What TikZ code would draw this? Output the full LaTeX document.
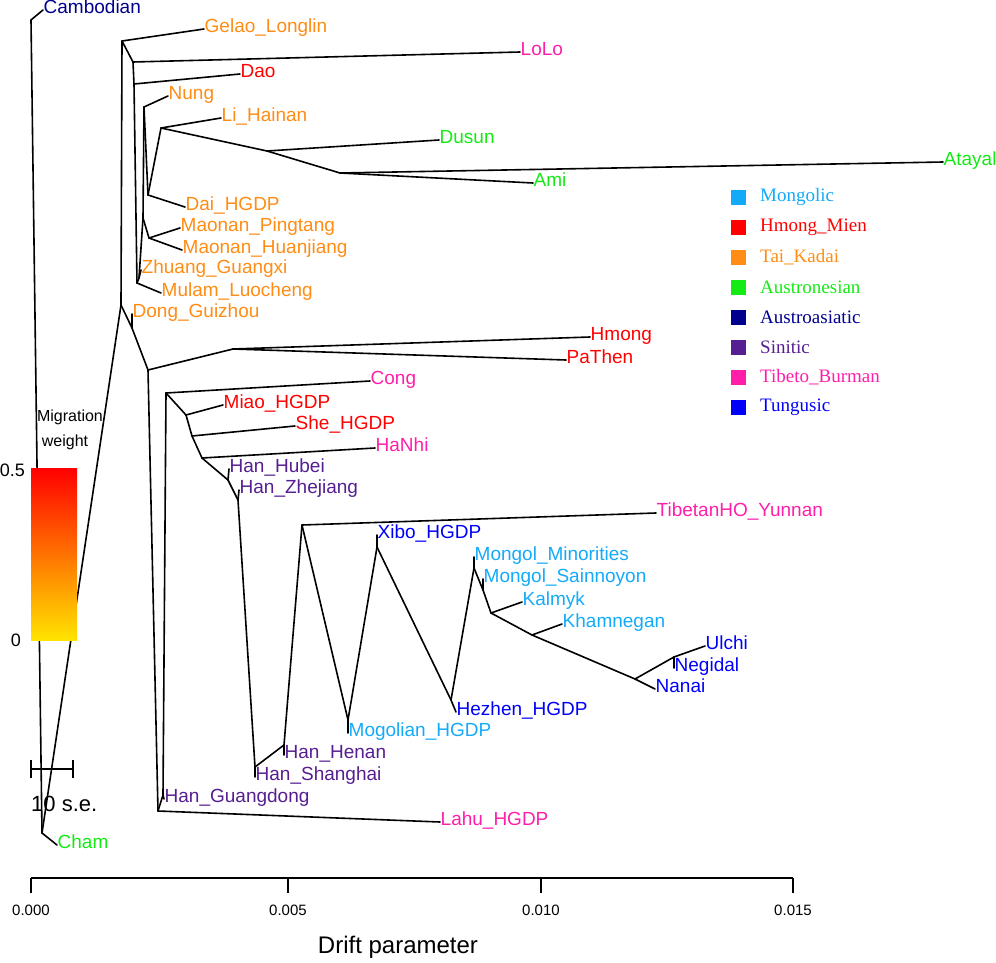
\documentclass[tikz,border=0pt]{standalone}
\usepackage{fontspec}
\setmainfont{Liberation Sans}
\newfontfamily\legfont{Liberation Serif}
\definecolor{cMon}{RGB}{20,170,250}
\definecolor{cHM}{RGB}{255,0,0}
\definecolor{cTK}{RGB}{255,140,20}
\definecolor{cAN}{RGB}{20,235,20}
\definecolor{cAA}{RGB}{0,0,140}
\definecolor{cSin}{RGB}{85,30,145}
\definecolor{cTB}{RGB}{255,30,170}
\definecolor{cTun}{RGB}{0,0,250}
\definecolor{barYel}{RGB}{255,228,0}
\begin{document}
\begin{tikzpicture}[x=1pt,y=-1pt,
  edge/.style={line width=1.6pt, black, line join=round, line cap=round},
  tip/.style={anchor=west, inner xsep=0.5pt, inner ysep=0pt, font=\fontsize{19}{22}\selectfont, text height=0.70em, text depth=0.02em},
  tMon/.style={tip, text=cMon}, tHM/.style={tip, text=cHM}, tTK/.style={tip, text=cTK},
  tAN/.style={tip, text=cAN}, tAA/.style={tip, text=cAA}, tSin/.style={tip, text=cSin},
  tTB/.style={tip, text=cTB}, tTun/.style={tip, text=cTun},
  legtxt/.style={anchor=west, inner sep=0pt, font=\legfont\fontsize{19}{22}\selectfont},
  axtxt/.style={inner sep=0pt, font=\fontsize{15}{18}\selectfont}]
\useasboundingbox (0,0) rectangle (996,963);

% internal nodes
\coordinate (root) at (31,20);
\coordinate (n1) at (42,833);
\coordinate (n2) at (121,305);
\coordinate (n3) at (122,41);
\coordinate (n4) at (133,62);
\coordinate (n5) at (134,84);
\coordinate (n6) at (137,283);
\coordinate (n8) at (139,278);
\coordinate (n7) at (143,218);
\coordinate (nMao) at (149,238);
\coordinate (nNung) at (144,107);
\coordinate (nDai) at (148,195);
\coordinate (nLi) at (161,128);
\coordinate (nA) at (267,151);
\coordinate (nB) at (340,173);
\coordinate (nD) at (132,328);
\coordinate (n9) at (148,370);
\coordinate (nHm) at (233,349);
\coordinate (n10) at (158,811);
\coordinate (n11) at (163,795);
\coordinate (nCong) at (166,393);
\coordinate (nMiao) at (186,415);
\coordinate (nShe) at (192,436);
\coordinate (nHaNhi) at (202,458);
\coordinate (nHubei) at (228,480);
\coordinate (nZhe) at (238,500);
\coordinate (nSha) at (255,767);
\coordinate (nHen) at (284,745);
\coordinate (nTib) at (302,525);
\coordinate (nMog) at (348,720);
\coordinate (nXibo) at (377,547);
\coordinate (nHez) at (451,700);
\coordinate (nMM) at (474,568);
\coordinate (nSai) at (483,590);
\coordinate (nKal) at (491,613);
\coordinate (nKham) at (532,635);
\coordinate (nNanai) at (635,679);
\coordinate (nUlchi) at (674,657);

% tip labels
\node[tAA] (Cambodian) at (43,10) {Cambodian};
\node[tAN] (Cham) at (57,845) {Cham};
\node[tTK] (Gelao) at (204,29) {Gelao\_Longlin};
\node[tTB] (LoLo) at (520,52) {LoLo};
\node[tHM] (Dao) at (240,74) {Dao};
\node[tTK] (Nung) at (168,96) {Nung};
\node[tTK] (Li) at (221,118) {Li\_Hainan};
\node[tAN] (Dusun) at (439,140) {Dusun};
\node[tAN] (Atayal) at (943,162) {Atayal};
\node[tAN] (Ami) at (533,183) {Ami};
\node[tTK] (Dai) at (185,207) {Dai\_HGDP};
\node[tTK] (MaoP) at (180,228) {Maonan\_Pingtang};
\node[tTK] (MaoH) at (182,250) {Maonan\_Huanjiang};
\node[tTK] (Zhuang) at (141,270) {Zhuang\_Guangxi};
\node[tTK] (Mulam) at (161,293) {Mulam\_Luocheng};
\node[tTK] (Dong) at (132,314) {Dong\_Guizhou};
\node[tHM] (Hmong) at (590,337) {Hmong};
\node[tHM] (PaThen) at (566,360) {PaThen};
\node[tTB] (Cong) at (370,381) {Cong};
\node[tHM] (Miao) at (223,405) {Miao\_HGDP};
\node[tHM] (She) at (295,426) {She\_HGDP};
\node[tTB] (HaNhi) at (375,448) {HaNhi};
\node[tSin] (Hubei) at (229,469) {Han\_Hubei};
\node[tSin] (Zhe) at (239,490) {Han\_Zhejiang};
\node[tTB] (Tib) at (656,513) {TibetanHO\_Yunnan};
\node[tTun] (Xibo) at (377,535) {Xibo\_HGDP};
\node[tMon] (MM) at (474,557) {Mongol\_Minorities};
\node[tMon] (Sai) at (483,579) {Mongol\_Sainnoyon};
\node[tMon] (Kal) at (522,602) {Kalmyk};
\node[tMon] (Kham) at (562,624) {Khamnegan};
\node[tTun] (Ulchi) at (705,646) {Ulchi};
\node[tTun] (Negidal) at (674,668) {Negidal};
\node[tTun] (Nanai) at (655,689) {Nanai};
\node[tTun] (Hez) at (456,712) {Hezhen\_HGDP};
\node[tMon] (Mog) at (348,733) {Mogolian\_HGDP};
\node[tSin] (Hen) at (284,755) {Han\_Henan};
\node[tSin] (Sha) at (255,777) {Han\_Shanghai};
\node[tSin] (HanGD) at (164,799) {Han\_Guangdong};
\node[tTB] (Lahu) at (440,822) {Lahu\_HGDP};

% edges
\draw[edge] (root) -- (Cambodian.west);
\draw[edge] (root) -- (n1);
\draw[edge] (n1) -- (Cham.west);
\draw[edge] (n1) -- (n2);
\draw[edge] (n2) -- (n3);
\draw[edge] (n3) -- (Gelao.west);
\draw[edge] (n3) -- (n4);
\draw[edge] (n4) -- (LoLo.west);
\draw[edge] (n4) -- (n5);
\draw[edge] (n5) -- (Dao.west);
\draw[edge] (n5) -- (n6);
\draw[edge] (n6) -- (Mulam.west);
\draw[edge] (n6) -- (n8);
\draw[edge] (n8) -- (Zhuang.west);
\draw[edge] (n8) -- (n7);
\draw[edge] (n7) -- (nMao);
\draw[edge] (nMao) -- (MaoP.west);
\draw[edge] (nMao) -- (MaoH.west);
\draw[edge] (n7) -- (nNung);
\draw[edge] (nNung) -- (Nung.west);
\draw[edge] (nNung) -- (nDai);
\draw[edge] (nDai) -- (Dai.west);
\draw[edge] (nDai) -- (nLi);
\draw[edge] (nLi) -- (Li.west);
\draw[edge] (nLi) -- (nA);
\draw[edge] (nA) -- (Dusun.west);
\draw[edge] (nA) -- (nB);
\draw[edge] (nB) -- (Ami.west);
\draw[edge] (nB) -- (Atayal.west);
\draw[edge] (n2) -- (nD);
\draw[edge] (nD) -- (Dong.west);
\draw[edge] (nD) -- (n9);
\draw[edge] (n9) -- (nHm);
\draw[edge] (nHm) -- (Hmong.west);
\draw[edge] (nHm) -- (PaThen.west);
\draw[edge] (n9) -- (n10);
\draw[edge] (n10) -- (Lahu.west);
\draw[edge] (n10) -- (n11);
\draw[edge] (n11) -- (HanGD.west);
\draw[edge] (n11) -- (nCong);
\draw[edge] (nCong) -- (Cong.west);
\draw[edge] (nCong) -- (nMiao);
\draw[edge] (nMiao) -- (Miao.west);
\draw[edge] (nMiao) -- (nShe);
\draw[edge] (nShe) -- (She.west);
\draw[edge] (nShe) -- (nHaNhi);
\draw[edge] (nHaNhi) -- (HaNhi.west);
\draw[edge] (nHaNhi) -- (nHubei);
\draw[edge] (nHubei) -- (Hubei.west);
\draw[edge] (nHubei) -- (nZhe);
\draw[edge] (nZhe) -- (Zhe.west);
\draw[edge] (nZhe) -- (nSha);
\draw[edge] (nSha) -- (Sha.west);
\draw[edge] (nSha) -- (nHen);
\draw[edge] (nHen) -- (Hen.west);
\draw[edge] (nHen) -- (nTib);
\draw[edge] (nTib) -- (Tib.west);
\draw[edge] (nTib) -- (nMog);
\draw[edge] (nMog) -- (Mog.west);
\draw[edge] (nMog) -- (nXibo);
\draw[edge] (nXibo) -- (Xibo.west);
\draw[edge] (nXibo) -- (nHez);
\draw[edge] (nHez) -- (Hez.west);
\draw[edge] (nHez) -- (nMM);
\draw[edge] (nMM) -- (MM.west);
\draw[edge] (nMM) -- (nSai);
\draw[edge] (nSai) -- (Sai.west);
\draw[edge] (nSai) -- (nKal);
\draw[edge] (nKal) -- (Kal.west);
\draw[edge] (nKal) -- (nKham);
\draw[edge] (nKham) -- (Kham.west);
\draw[edge] (nKham) -- (nNanai);
\draw[edge] (nNanai) -- (Nanai.west);
\draw[edge] (nNanai) -- (nUlchi);
\draw[edge] (nUlchi) -- (Ulchi.west);
\draw[edge] (nUlchi) -- (Negidal.west);

% migration weight colour bar
\shade[top color=red, bottom color=barYel] (31,468) rectangle (77,640);
\node[inner sep=0pt, font=\fontsize{16}{18}\selectfont] (mig1) at (70,417) {Migration};
\node[inner sep=0pt, font=\fontsize{16}{18}\selectfont] (mig2) at (65,442) {weight};
\node[anchor=east, inner sep=0pt, font=\fontsize{18}{20}\selectfont] (w05) at (25,470) {0.5};
\node[inner sep=0pt, font=\fontsize{18}{20}\selectfont] (w0) at (16,640) {0};

% scale bar
\coordinate (sbL) at (31,769);
\coordinate (sbR) at (73,769);
\draw[line width=1.6pt] (sbL) -- (sbR);
\draw[line width=1.6pt] ([yshift=-9pt]sbL) -- ([yshift=9pt]sbL);
\draw[line width=1.6pt] ([yshift=-9pt]sbR) -- ([yshift=9pt]sbR);
\node[anchor=west, inner sep=0pt, font=\fontsize{22}{24}\selectfont] (se) at (31,804) {10 s.e.};

% axis
\coordinate (ax0) at (31,878);
\coordinate (ax5) at (288,878);
\coordinate (ax10) at (541,878);
\coordinate (ax15) at (793,878);
\draw[line width=1.5pt] (ax0) -- (ax15);
\foreach \t/\l in {ax0/0.000, ax5/0.005, ax10/0.010, ax15/0.015}{
  \draw[line width=1.5pt] (\t) -- ++(0,15);
  \node[axtxt] at ([yshift=-32pt]\t) {\l};
}
\node[inner sep=0pt, font=\fontsize{24}{28}\selectfont] (xlab) at (398,947) {Drift parameter};

% legend
\foreach \c/\t [count=\i from 0] in {cMon/Mongolic, cHM/Hmong\_Mien, cTK/Tai\_Kadai, cAN/Austronesian, cAA/Austroasiatic, cSin/Sinitic, cTB/Tibeto\_Burman, cTun/Tungusic}{
  \fill[\c] (731,{189.5+30*\i}) rectangle (746,{204.5+30*\i});
  \node[legtxt, text=\c] at (760,{197+30*\i}) {\t};
}
\end{tikzpicture}
\end{document}
